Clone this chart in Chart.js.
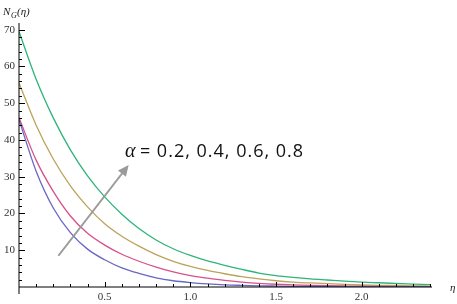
<!DOCTYPE html>
<html>
<head>
<meta charset="utf-8">
<script src="https://cdn.jsdelivr.net/npm/chart.js@4"></script>
<style>
  html, body { margin: 0; padding: 0; background: #fff; }
  #wrap { width: 457px; height: 304px; position: relative; }
</style>
</head>
<body>
<div id="wrap"><canvas id="chart"></canvas></div>
<script>
var eta = [0, 0.1, 0.2, 0.3, 0.4, 0.5, 0.6, 0.7, 0.8, 0.9, 1.0, 1.1, 1.2,
    1.3, 1.4, 1.5, 1.6, 1.7, 1.8, 1.9, 2.0, 2.1, 2.2, 2.3, 2.4];
// alpha = 0.2 (blue), 0.4 (pink), 0.6 (gold), 0.8 (green)
var alpha02 = [45.5, 31.5, 21.5, 14.8, 10.3, 7.4, 5.2, 3.7, 2.5, 1.7, 1.2, 0.85, 0.6,
    0.45, 0.33, 0.25, 0.18, 0.13, 0.1, 0.08, 0.06, 0.05, 0.04, 0.03, 0.02];
var alpha04 = [46, 34.5, 26, 19.3, 14.6, 11.4, 8.9, 7.0, 5.4, 4.1, 3.1, 2.4, 1.8,
    1.35, 1.0, 0.75, 0.58, 0.45, 0.35, 0.27, 0.2, 0.16, 0.12, 0.1, 0.08];
var alpha06 = [55.5, 44, 34.8, 27.5, 21.8, 17.2, 13.8, 11.1, 8.8, 7.0, 5.6, 4.5, 3.6,
    2.8, 2.2, 1.7, 1.35, 1.1, 0.9, 0.7, 0.55, 0.45, 0.38, 0.3, 0.25];
var alpha08 = [69.5, 56.5, 46, 37.3, 30.2, 24.5, 19.8, 15.9, 12.8, 10.4, 8.6, 7.1, 5.9,
    4.8, 3.8, 3.1, 2.6, 2.2, 1.9, 1.6, 1.35, 1.15, 0.95, 0.8, 0.65];
var xTicks = [0.5, 1.0, 1.5, 2.0];
var yTicks = [10, 20, 30, 40, 50, 60, 70];
var annotation = '= 0.2, 0.4, 0.6, 0.8';

function pts(ys) {
    return ys.map(function(y, i) { return { x: eta[i], y: y }; });
}

// axes, ticks, labels and the arrow annotation, drawn with the chart's own scales
var axesPlugin = {
    id: 'axesPlugin',
    afterDraw: function(chart) {
        var ctx = chart.ctx;
        var xs = chart.scales.x, ys = chart.scales.y;
        var x0 = xs.getPixelForValue(0), y0 = ys.getPixelForValue(0);
        var xEnd = xs.getPixelForValue(xs.max), yTop = ys.getPixelForValue(ys.max);
        ctx.save();
        ctx.strokeStyle = '#000';
        ctx.lineWidth = 1;
        ctx.beginPath();
        ctx.moveTo(x0, y0); ctx.lineTo(xEnd, y0);
        ctx.moveTo(x0, yTop); ctx.lineTo(x0, y0 + 7);
        // minor / major ticks on x
        for (var t = 1; t <= 24; t++) {
            var px = Math.round(xs.getPixelForValue(t / 10)) + 0.5;
            var len = (t % 5 === 0) ? 5 : 3;
            ctx.moveTo(px, y0); ctx.lineTo(px, y0 - len);
        }
        // minor / major ticks on y
        for (var v = 2; v <= 70; v += 2) {
            var py = Math.round(ys.getPixelForValue(v)) + 0.5;
            var l2 = (v % 10 === 0) ? 6 : 3;
            ctx.moveTo(x0, py); ctx.lineTo(x0 + l2, py);
        }
        ctx.stroke();

        ctx.fillStyle = '#333';
        ctx.font = '11px "Liberation Serif"';
        ctx.textAlign = 'center';
        ctx.textBaseline = 'top';
        xTicks.forEach(function(t) {
            ctx.fillText(t.toFixed(1), xs.getPixelForValue(t), y0 + 5);
        });
        ctx.textAlign = 'right';
        ctx.textBaseline = 'middle';
        yTicks.forEach(function(t) {
            ctx.fillText(String(t), x0 - 4, ys.getPixelForValue(t));
        });

        // axis titles
        ctx.fillStyle = '#222';
        ctx.textAlign = 'left';
        ctx.textBaseline = 'alphabetic';
        ctx.font = 'italic 11px "Liberation Serif"';
        ctx.fillText('\u03B7', xEnd + 18, y0 + 4);
        ctx.fillText('N', 3, 15);
        ctx.font = 'italic 8px "Liberation Serif"';
        ctx.fillText('G', 11, 18);
        ctx.font = 'italic 11px "Liberation Serif"';
        ctx.fillText('(\u03B7)', 17, 15);

        // arrow
        var ax = xs.getPixelForValue(0.23), ay = ys.getPixelForValue(8.5);
        var bx = xs.getPixelForValue(0.64), by = ys.getPixelForValue(33.2);
        var ang = Math.atan2(by - ay, bx - ax);
        ctx.strokeStyle = '#9a9a9a';
        ctx.fillStyle = '#9a9a9a';
        ctx.lineWidth = 2;
        ctx.beginPath();
        ctx.moveTo(ax, ay);
        ctx.lineTo(bx - 8 * Math.cos(ang), by - 8 * Math.sin(ang));
        ctx.stroke();
        ctx.beginPath();
        ctx.moveTo(bx, by);
        ctx.lineTo(bx - 11 * Math.cos(ang) + 5 * Math.sin(ang), by - 11 * Math.sin(ang) - 5 * Math.cos(ang));
        ctx.lineTo(bx - 11 * Math.cos(ang) - 5 * Math.sin(ang), by - 11 * Math.sin(ang) + 5 * Math.cos(ang));
        ctx.closePath();
        ctx.fill();

        // annotation text
        var tx = xs.getPixelForValue(0.618), ty = ys.getPixelForValue(35.3);
        ctx.fillStyle = '#111';
        ctx.font = 'italic 20px "Liberation Serif"';
        ctx.fillText('\u03B1', tx, ty);
        ctx.font = '18px "Open Sans"';
        ctx.letterSpacing = '1px';
        ctx.fillText(annotation, tx + 15, ty);
        ctx.restore();
    }
};

var ctx = document.getElementById('chart').getContext('2d');
var chart = new Chart(ctx, {
    type: 'line',
    data: {
        datasets: [
            { label: '\u03B1 = 0.2', data: pts(alpha02), borderColor: '#6a66c4' },
            { label: '\u03B1 = 0.4', data: pts(alpha04), borderColor: '#d85088' },
            { label: '\u03B1 = 0.6', data: pts(alpha06), borderColor: '#bba35c' },
            { label: '\u03B1 = 0.8', data: pts(alpha08), borderColor: '#2db579' }
        ]
    },
    options: {
        responsive: true,
        maintainAspectRatio: false,
        animation: false,
        layout: { padding: { left: 19, right: 25, top: 23, bottom: 17 } },
        elements: {
            point: { radius: 0 },
            line: { borderWidth: 1.3, cubicInterpolationMode: 'monotone', fill: false }
        },
        plugins: { legend: { display: false }, tooltip: { enabled: false } },
        scales: {
            x: { type: 'linear', min: 0, max: 2.41, display: false },
            y: { type: 'linear', min: 0, max: 71.8, display: false }
        }
    },
    plugins: [axesPlugin]
});
</script>
</body>
</html>
